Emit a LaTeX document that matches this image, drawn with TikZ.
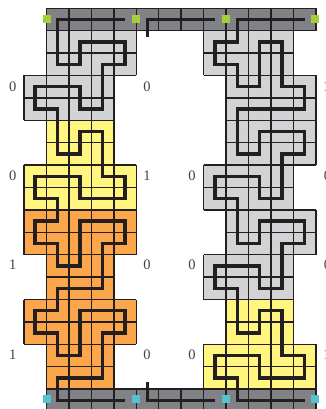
\documentclass[tikz,border=0pt]{standalone}
\usepackage{fontspec}
\setmainfont{Liberation Serif}
\definecolor{tgray}{HTML}{D1D3D4}
\definecolor{tdark}{HTML}{808285}
\definecolor{tyellow}{HTML}{FFF57F}
\definecolor{torange}{HTML}{FBA64B}
\definecolor{tgreen}{HTML}{A6CE39}
\definecolor{tcyan}{HTML}{53C4CF}
\definecolor{tink}{HTML}{231F20}
\tikzset{
  gridline/.style={draw=tink,line width=1.45pt},
  wire/.style={draw=tink,line width=3.5pt,line join=miter,line cap=butt},
  portmark/.style={draw=none,minimum size=8pt,inner sep=0pt},
  bitlabel/.style={font=\fontsize{14.5}{14.5}\selectfont,text=tink!85,inner sep=0pt},
}
% \tile{colour}{x0}{x1}{r0}{r1}
\newcommand{\tile}[5]{%
  \fill[#1] (#2,#4) rectangle (#3,#5);
  \pgfmathtruncatemacro{\tilexa}{#2}\pgfmathtruncatemacro{\tilexb}{#3}%
  \pgfmathtruncatemacro{\tilera}{#4}\pgfmathtruncatemacro{\tilerb}{#5}%
  \foreach \tilei in {\tilexa,...,\tilexb}{\draw[gridline,line cap=square] (\tilei,#4) -- (\tilei,#5);}
  \foreach \tilej in {\tilera,...,\tilerb}{\draw[gridline,line cap=square] (#2,\tilej) -- (#3,\tilej);}
}
\begin{document}
\begin{tikzpicture}[x=1pt,y=-1pt]
\useasboundingbox (0,0) rectangle (326,409);
\clip (0,0) rectangle (326,409);
\begin{scope}[x=22.45pt,y=-22.4pt,shift={(24pt,-8.3pt)}]
% bars
\tile{tdark}{1}{13}{0}{1}
\tile{tdark}{1}{13}{17}{18}
% left tower
\tile{tgray}{1}{5}{1}{3}
\tile{tgray}{0}{4}{3}{5}
\tile{tyellow}{1}{4}{5}{7}
\tile{tyellow}{0}{5}{7}{9}
\tile{torange}{0}{5}{9}{11}
\tile{torange}{1}{4}{11}{13}
\tile{torange}{0}{5}{13}{15}
\tile{torange}{1}{4}{15}{17}
% right tower
\tile{tgray}{8}{12}{1}{3}
\tile{tgray}{9}{13}{3}{7}
\tile{tgray}{8}{12}{7}{9}
\tile{tgray}{9}{13}{9}{11}
\tile{tgray}{8}{12}{11}{13}
\tile{tyellow}{9}{12}{13}{15}
\tile{tyellow}{8}{13}{15}{17}
% wires
\draw[wire] (4.5,.5) -- (1.5,.5) -- (1.5,2.5) -- (2.5,2.5) -- (2.5,1.5) -- (4.5,1.5) -- (4.5,2.5) -- (3.5,2.5) -- (3.5,4.5) -- (2.5,4.5) -- (2.5,3.5) -- (.5,3.5) -- (.5,4.5) -- (1.5,4.5) -- (1.5,6.5) -- (2.5,6.5) -- (2.5,5.5) -- (3.5,5.5) -- (3.5,7.5) -- (4.5,7.5) -- (4.5,8.5) -- (2.5,8.5) -- (2.5,7.5) -- (.5,7.5) -- (.5,8.5) -- (1.5,8.5) -- (1.5,9.5) -- (.5,9.5) -- (.5,10.5) -- (1.5,10.5) -- (1.5,11.5) -- (2.5,11.5) -- (2.5,9.5) -- (4.5,9.5) -- (4.5,10.5) -- (3.5,10.5) -- (3.5,12.5) -- (1.5,12.5) -- (1.5,13.5) -- (.5,13.5) -- (.5,14.5) -- (1.5,14.5) -- (1.5,15.5) -- (2.5,15.5) -- (2.5,13.5) -- (4.5,13.5) -- (4.5,14.5) -- (3.5,14.5) -- (3.5,16.5) -- (1.5,16.5) -- (1.5,17.5) -- (4.5,17.5);
\draw[wire] (5.5,1.3) -- (5.5,.5) -- (8.5,.5);
\draw[wire] (5.5,16.7) -- (5.5,17.5) -- (8.5,17.5);
\draw[wire] (12.5,.5) -- (9.5,.5) -- (9.5,1.5) -- (8.5,1.5) -- (8.5,2.5) -- (9.5,2.5) -- (9.5,3.5) -- (10.5,3.5) -- (10.5,1.5) -- (11.5,1.5) -- (11.5,3.5) -- (12.5,3.5) -- (12.5,4.5) -- (9.5,4.5) -- (9.5,6.5) -- (10.5,6.5) -- (10.5,5.5) -- (12.5,5.5) -- (12.5,6.5) -- (11.5,6.5) -- (11.5,8.5) -- (10.5,8.5) -- (10.5,7.5) -- (8.5,7.5) -- (8.5,8.5) -- (9.5,8.5) -- (9.5,10.5) -- (10.5,10.5) -- (10.5,9.5) -- (12.5,9.5) -- (12.5,10.5) -- (11.5,10.5) -- (11.5,12.5) -- (10.5,12.5) -- (10.5,11.5) -- (8.5,11.5) -- (8.5,12.5) -- (9.5,12.5) -- (9.5,14.5) -- (10.5,14.5) -- (10.5,13.5) -- (11.5,13.5) -- (11.5,15.5) -- (12.5,15.5) -- (12.5,16.5) -- (10.5,16.5) -- (10.5,15.5) -- (8.5,15.5) -- (8.5,16.5) -- (9.5,16.5) -- (9.5,17.5) -- (12.5,17.5);
\end{scope}
% ports
\node[portmark,fill=tgreen] (g1) at (47,19) {};
\node[portmark,fill=tgreen] (g2) at (136,19) {};
\node[portmark,fill=tgreen] (g3) at (226,19) {};
\node[portmark,fill=tgreen] (g4) at (315,19) {};
\node[portmark,fill=tcyan] (c1) at (47,399) {};
\node[portmark,fill=tcyan] (c2) at (136,399) {};
\node[portmark,fill=tcyan] (c3) at (226,399) {};
\node[portmark,fill=tcyan] (c4) at (315,399) {};
% labels
\node[bitlabel] (l1) at (12.7,87) {0};
\node[bitlabel] (l2) at (147,87) {0};
\node[bitlabel] (l3) at (12.7,176) {0};
\node[bitlabel] (l4) at (147,176) {1};
\node[bitlabel] (l5) at (12.7,265) {1};
\node[bitlabel] (l6) at (147,265) {0};
\node[bitlabel] (l7) at (12.7,355) {1};
\node[bitlabel] (l8) at (147,355) {0};
\node[bitlabel] (r1) at (192,176) {0};
\node[bitlabel] (r2) at (192,265) {0};
\node[bitlabel] (r3) at (192,355) {0};
\node[bitlabel] (r4) at (327,87) {1};
\node[bitlabel] (r5) at (327.5,176) {0};
\node[bitlabel] (r6) at (327.5,265) {0};
\node[bitlabel] (r7) at (327,355) {1};
\end{tikzpicture}
\end{document}
